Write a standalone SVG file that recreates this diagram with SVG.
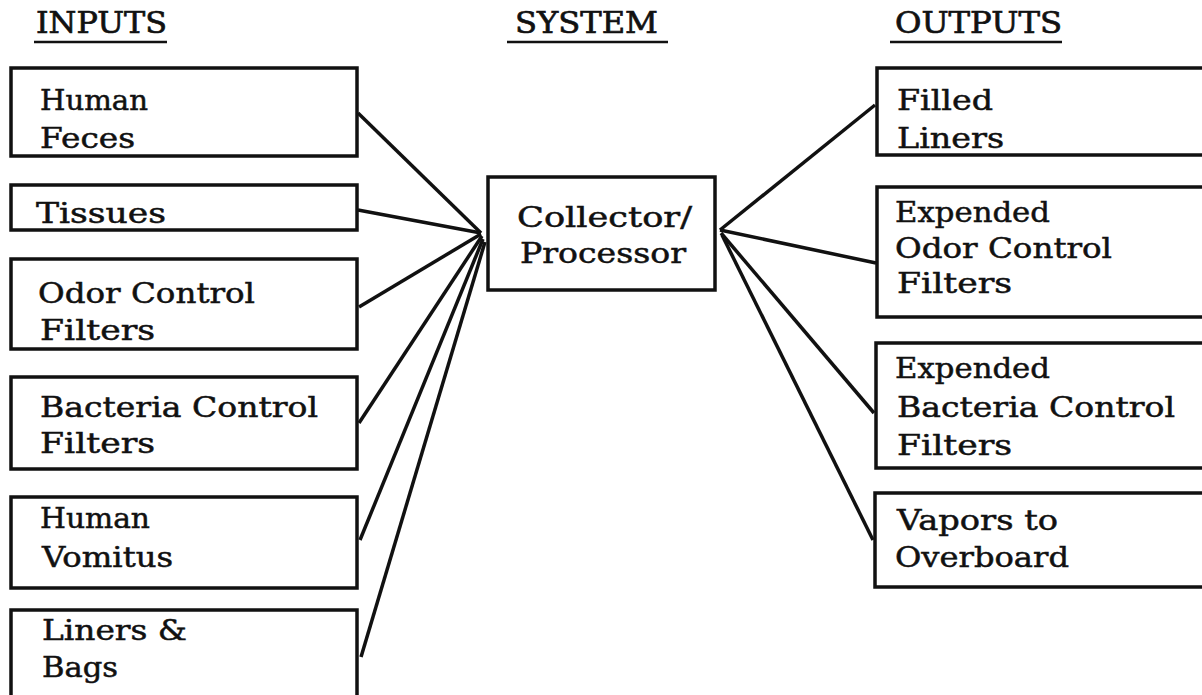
<svg xmlns="http://www.w3.org/2000/svg" width="1202" height="695" viewBox="0 0 1202 695">
<style>
.box{fill:#fff;stroke:#111;stroke-width:3.5}
.t{font-family:"DejaVu Serif","Liberation Serif",serif;font-size:28px;fill:#111;stroke:#111;stroke-width:0.5}
.h{font-family:"DejaVu Serif","Liberation Serif",serif;font-size:30px;fill:#111;stroke:#111;stroke-width:0.7}
.ul{stroke:#111;stroke-width:2.5}
.c{stroke:#111;stroke-width:3.5;fill:none}
</style>
<rect width="1202" height="695" fill="#fff"/>
<g id="headers">
<text class="h" x="36" y="33" textLength="131" lengthAdjust="spacingAndGlyphs">INPUTS</text>
<line class="ul" x1="34" y1="42" x2="167" y2="42"/>
<text class="h" x="515" y="33" textLength="143" lengthAdjust="spacingAndGlyphs">SYSTEM</text>
<line class="ul" x1="507" y1="42" x2="668" y2="42"/>
<text class="h" x="895" y="33" textLength="167" lengthAdjust="spacingAndGlyphs">OUTPUTS</text>
<line class="ul" x1="890" y1="42" x2="1062" y2="42"/>
</g>
<g id="connectors">
<line class="c" x1="358" y1="113" x2="481" y2="233"/>
<line class="c" x1="358" y1="210" x2="481" y2="233"/>
<line class="c" x1="359" y1="307" x2="481" y2="234"/>
<line class="c" x1="359" y1="423" x2="482" y2="236"/>
<line class="c" x1="360" y1="540" x2="483" y2="239"/>
<line class="c" x1="361" y1="657" x2="485" y2="242"/>
<line class="c" x1="720" y1="230" x2="875" y2="105"/>
<line class="c" x1="720" y1="230" x2="876" y2="263"/>
<line class="c" x1="721" y1="233" x2="874" y2="413"/>
<line class="c" x1="722" y1="235" x2="873" y2="540"/>
</g>
<g id="in-feces"><rect class="box" x="11" y="68" width="346" height="88"/>
<text class="t" x="40" y="110" textLength="108" lengthAdjust="spacingAndGlyphs">Human</text>
<text class="t" x="40" y="148" textLength="95" lengthAdjust="spacingAndGlyphs">Feces</text></g>
<g id="in-tissues"><rect class="box" x="11" y="185" width="346" height="45"/>
<text class="t" x="36" y="223" textLength="130" lengthAdjust="spacingAndGlyphs">Tissues</text></g>
<g id="in-odor"><rect class="box" x="11" y="259" width="346" height="90"/>
<text class="t" x="38" y="303" textLength="217" lengthAdjust="spacingAndGlyphs">Odor Control</text>
<text class="t" x="40" y="340" textLength="115" lengthAdjust="spacingAndGlyphs">Filters</text></g>
<g id="in-bacteria"><rect class="box" x="11" y="377" width="346" height="92"/>
<text class="t" x="40" y="417" textLength="278" lengthAdjust="spacingAndGlyphs">Bacteria Control</text>
<text class="t" x="40" y="453" textLength="115" lengthAdjust="spacingAndGlyphs">Filters</text></g>
<g id="in-vomitus"><rect class="box" x="11" y="497" width="346" height="91"/>
<text class="t" x="40" y="528" textLength="110" lengthAdjust="spacingAndGlyphs">Human</text>
<text class="t" x="42" y="567" textLength="131" lengthAdjust="spacingAndGlyphs">Vomitus</text></g>
<g id="in-liners"><rect class="box" x="11" y="610" width="346" height="95"/>
<text class="t" x="42" y="640" textLength="145" lengthAdjust="spacingAndGlyphs">Liners &amp;</text>
<text class="t" x="42" y="677" textLength="76" lengthAdjust="spacingAndGlyphs">Bags</text></g>
<g id="system"><rect class="box" x="488" y="177" width="227" height="113"/>
<text class="t" x="517" y="227" textLength="175" lengthAdjust="spacingAndGlyphs">Collector/</text>
<text class="t" x="520" y="263" textLength="166" lengthAdjust="spacingAndGlyphs">Processor</text></g>
<g id="out-liners"><rect class="box" x="877" y="68" width="340" height="87"/>
<text class="t" x="897" y="110" textLength="96" lengthAdjust="spacingAndGlyphs">Filled</text>
<text class="t" x="897" y="148" textLength="107" lengthAdjust="spacingAndGlyphs">Liners</text></g>
<g id="out-odor"><rect class="box" x="877" y="187" width="340" height="130"/>
<text class="t" x="895" y="222" textLength="155" lengthAdjust="spacingAndGlyphs">Expended</text>
<text class="t" x="895" y="258" textLength="217" lengthAdjust="spacingAndGlyphs">Odor Control</text>
<text class="t" x="897" y="293" textLength="115" lengthAdjust="spacingAndGlyphs">Filters</text></g>
<g id="out-bacteria"><rect class="box" x="876" y="343" width="340" height="125"/>
<text class="t" x="895" y="378" textLength="155" lengthAdjust="spacingAndGlyphs">Expended</text>
<text class="t" x="897" y="417" textLength="278" lengthAdjust="spacingAndGlyphs">Bacteria Control</text>
<text class="t" x="897" y="455" textLength="115" lengthAdjust="spacingAndGlyphs">Filters</text></g>
<g id="out-vapors"><rect class="box" x="875" y="493" width="340" height="94"/>
<text class="t" x="897" y="530" textLength="161" lengthAdjust="spacingAndGlyphs">Vapors to</text>
<text class="t" x="895" y="567" textLength="174" lengthAdjust="spacingAndGlyphs">Overboard</text></g>
</svg>
